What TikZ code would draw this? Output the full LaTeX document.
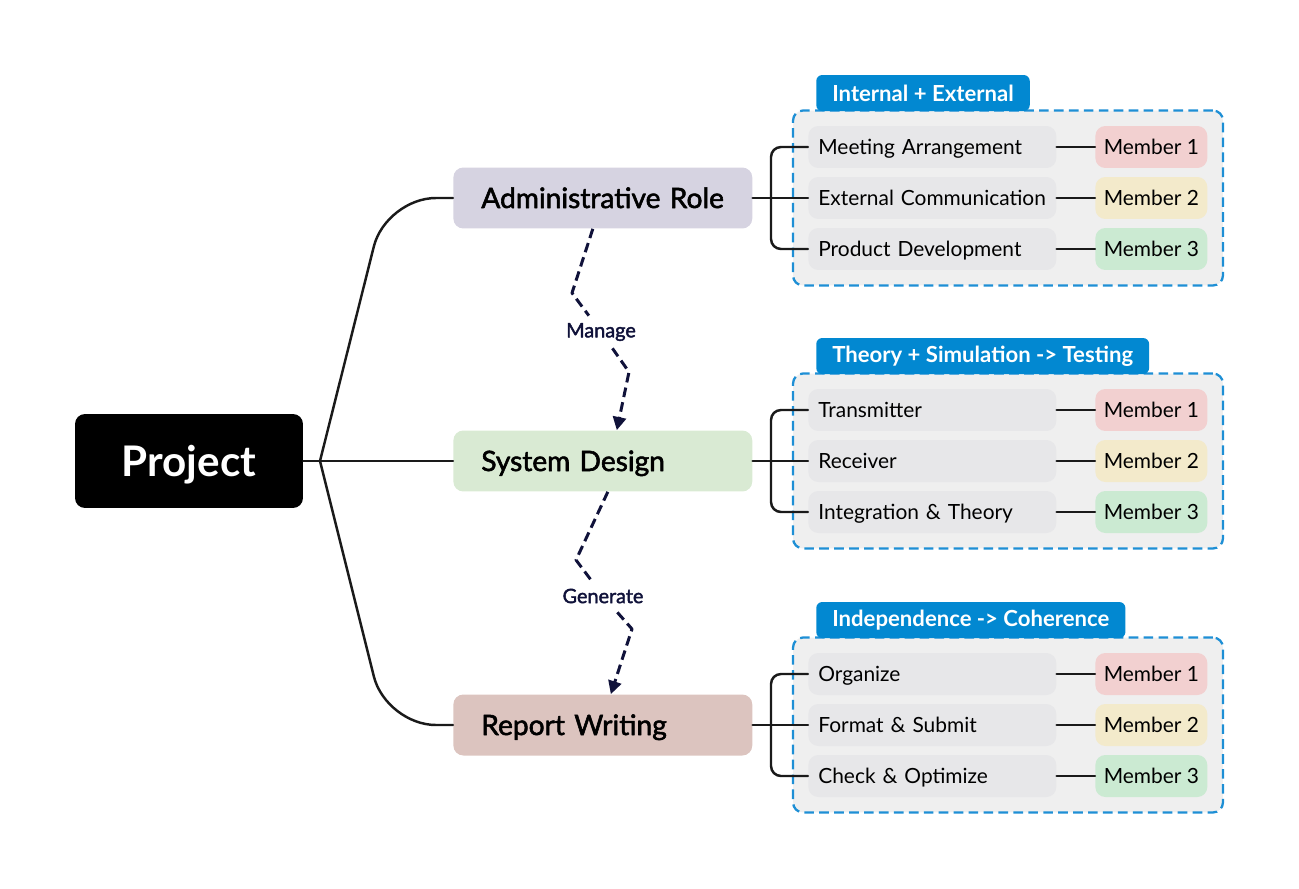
\documentclass[tikz,border=0pt]{standalone}
\usepackage{fontspec}
\setmainfont{Lato}
\newfontfamily\medfont{Lato}[FakeBold=2]
\usetikzlibrary{arrows.meta,calc}
\hyphenpenalty=10000
\definecolor{adminfill}{HTML}{D6D3E1}
\definecolor{sysfill}{HTML}{D9EAD3}
\definecolor{repfill}{HTML}{DCC4BF}
\definecolor{itemfill}{HTML}{E7E7E9}
\definecolor{boxfill}{HTML}{EFEFEF}
\definecolor{tabblue}{HTML}{0288D1}
\definecolor{boxblue}{HTML}{1E8FD5}
\definecolor{mone}{HTML}{F2D0D0}
\definecolor{mtwo}{HTML}{F3EACB}
\definecolor{mthree}{HTML}{CBEAD2}
\definecolor{linkcol}{HTML}{1A1A1A}
\definecolor{flowcol}{HTML}{10123A}
\begin{document}
\begin{tikzpicture}[x=0.02cm, y=-0.02cm, line join=round, >={Triangle[length=7.5pt,width=7.5pt]},
  root/.style={fill=black, text=white, rounded corners=0.2cm, minimum width=4.56cm, minimum height=1.88cm, text height=17.2pt, text depth=0pt, font=\bfseries\fontsize{24}{28}\selectfont},
  branch/.style={rounded corners=0.2cm, text width=4.86cm, align=left, inner xsep=0.56cm, minimum height=1.22cm, text height=11.4pt, text depth=0pt, anchor=west, font=\medfont\fontsize{16}{19}\selectfont},
  task/.style={fill=itemfill, rounded corners=0.2cm, text width=4.56cm, align=left, inner xsep=0.2cm, minimum height=0.84cm, text height=8.5pt, text depth=0pt, anchor=west, font=\fontsize{11.9}{14}\selectfont},
  member/.style={rounded corners=0.2cm, minimum width=2.24cm, minimum height=0.84cm, inner sep=0pt, text height=8.5pt, text depth=0pt, anchor=west, font=\fontsize{11.9}{14}\selectfont},
  grp/.style={draw=boxblue, fill=boxfill, line width=1.3pt, dash pattern=on 5.5pt off 3pt, rounded corners=0.2cm, minimum width=8.6cm, minimum height=3.5cm},
  tab/.style={fill=tabblue, text=white, rounded corners=0.12cm, minimum height=0.72cm, inner xsep=0.32cm, inner ysep=0pt, anchor=south west, font=\bfseries\fontsize{12.6}{15}\selectfont},
  link/.style={draw=linkcol, line width=1.4pt, line cap=round},
  flow/.style={draw=flowcol, line width=1.7pt, dash pattern=on 5.5pt off 3pt},
  flowlabel/.style={text=flowcol, font=\medfont\fontsize{11.3}{13}\selectfont, minimum height=0.64cm, inner xsep=2pt}]
 \useasboundingbox (0,0) rectangle (1299,889);
 % root and the three branches
 \node[root] (project) at (189,461) {Project};
 \node[branch, fill=adminfill] (admin) at (453,198) {Administrative Role};
 \node[branch, fill=sysfill] (system) at (453,461) {System Design};
 \node[branch, fill=repfill] (report) at (453,725) {Report Writing};
 \coordinate (rootfork) at (320,461);
 \draw[link] (project.east) -- (rootfork) -- (system.west);
 \draw[link, rounded corners=1cm] (rootfork) -- (386,198) -- (admin.west);
 \draw[link, rounded corners=1cm] (rootfork) -- (386,725) -- (report.west);
 % groups of tasks
 \foreach \g/\y/\head/\ta/\tb/\tc in {admin/198/{Internal + External}/{Meeting Arrangement}/{External Communication}/{Product Development},
   system/461/{Theory + Simulation -> Testing}/Transmitter/Receiver/{Integration \& Theory},
   report/725/{Independence -> Coherence}/Organize/{Format \& Submit}/{Check \& Optimize}} {
  \node[grp] (\g-box) at (1008,\y) {};
  \node[tab] (\g-tab) at ($(\g-box.north west)+(24,2)$) {\head};
  \node[task] (\g-t1) at (808,\y-51) {\ta};
  \node[task] (\g-t2) at (808,\y) {\tb};
  \node[task] (\g-t3) at (808,\y+51) {\tc};
  \foreach \i/\c in {1/mone,2/mtwo,3/mthree} {
   \node[member, fill=\c] (\g-m\i) at (1095,\y+51*\i-102) {Member \i};
   \draw[link] (\g-t\i) -- (\g-m\i);
  }
  \coordinate (\g-fork) at (771,\y);
  \draw[link] (\g.east) -- (\g-t2.west);
  \draw[link, rounded corners=0.2cm] (\g-t1.west) -| (\g-fork) |- (\g-t3.west);
 }
 % dashed flows between branches
 \node[flowlabel] (manage) at (601,332) {Manage};
 \node[flowlabel] (generate) at (603,596) {Generate};
 \draw[flow] ($(admin.south)+(-10,0)$) -- (572,293) -- (manage);
 \draw[flow, ->] (manage) -- (629,372) -- ($(system.north)+(14,0)$);
 \draw[flow] ($(system.south)+(5,0)$) -- (576,560) -- (generate);
 \draw[flow, ->] (generate) -- (632,629) -- ($(report.north)+(8,0)$);
\end{tikzpicture}
\end{document}
